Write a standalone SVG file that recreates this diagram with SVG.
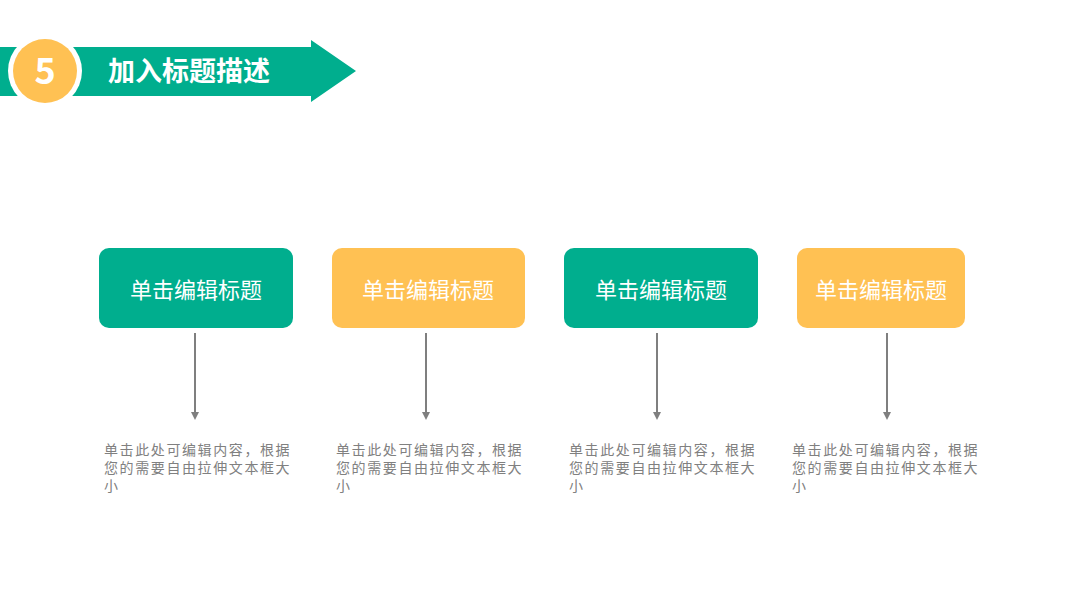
<svg xmlns="http://www.w3.org/2000/svg" width="1067" height="600" viewBox="0 0 1067 600">
<defs>
<style>
.t{font-family:"Microsoft YaHei","Noto Sans CJK SC",sans-serif;}
.bt{font-size:22px;fill:#fff;text-anchor:middle;}
.d{font-size:14px;letter-spacing:1.6px;fill:#808080;}
.ln{stroke:#7f7f7f;stroke-width:2;fill:none;marker-end:url(#ah);}
</style>
<marker id="ah" viewBox="0 0 10 10" refX="5" refY="5" markerWidth="4" markerHeight="4" orient="auto"><path d="M0,0L10,5L0,10z" fill="#7f7f7f"/></marker>
</defs>
<rect width="1067" height="600" fill="#fff"/>
<g id="header">
<path d="M0,47H311V40L356,71L311,102V96H0z" fill="#00AE8E"/>
<circle cx="45" cy="71" r="37" fill="#fff"/>
<circle cx="45" cy="71" r="32" fill="#FFC153"/>
<text x="45" y="84" class="t" font-size="36" font-weight="bold" fill="#fff" text-anchor="middle">5</text>
<text x="108" y="81" class="t" font-size="27" font-weight="bold" fill="#fff">加入标题描述</text>
</g>
<g id="connectors">
<line class="ln" x1="195" y1="333" x2="195" y2="416"/>
<line class="ln" x1="426" y1="333" x2="426" y2="416"/>
<line class="ln" x1="657" y1="333" x2="657" y2="416"/>
<line class="ln" x1="887" y1="333" x2="887" y2="416"/>
</g>
<g id="node1">
<rect x="99" y="248" width="194" height="80" rx="10" fill="#00AE8E"/>
<text x="196" y="298" class="t bt">单击编辑标题</text>
</g>
<g id="node2">
<rect x="332" y="248" width="193" height="80" rx="10" fill="#FFC153"/>
<text x="428" y="298" class="t bt">单击编辑标题</text>
</g>
<g id="node3">
<rect x="564" y="248" width="194" height="80" rx="10" fill="#00AE8E"/>
<text x="661" y="298" class="t bt">单击编辑标题</text>
</g>
<g id="node4">
<rect x="797" y="248" width="168" height="80" rx="10" fill="#FFC153"/>
<text x="881" y="298" class="t bt">单击编辑标题</text>
</g>
<g id="desc1" class="t d">
<text x="104" y="455">单击此处可编辑内容，根据</text>
<text x="104" y="473">您的需要自由拉伸文本框大</text>
<text x="104" y="491">小</text>
</g>
<g id="desc2" class="t d">
<text x="336" y="455">单击此处可编辑内容，根据</text>
<text x="336" y="473">您的需要自由拉伸文本框大</text>
<text x="336" y="491">小</text>
</g>
<g id="desc3" class="t d">
<text x="569" y="455">单击此处可编辑内容，根据</text>
<text x="569" y="473">您的需要自由拉伸文本框大</text>
<text x="569" y="491">小</text>
</g>
<g id="desc4" class="t d">
<text x="792" y="455">单击此处可编辑内容，根据</text>
<text x="792" y="473">您的需要自由拉伸文本框大</text>
<text x="792" y="491">小</text>
</g>
</svg>
